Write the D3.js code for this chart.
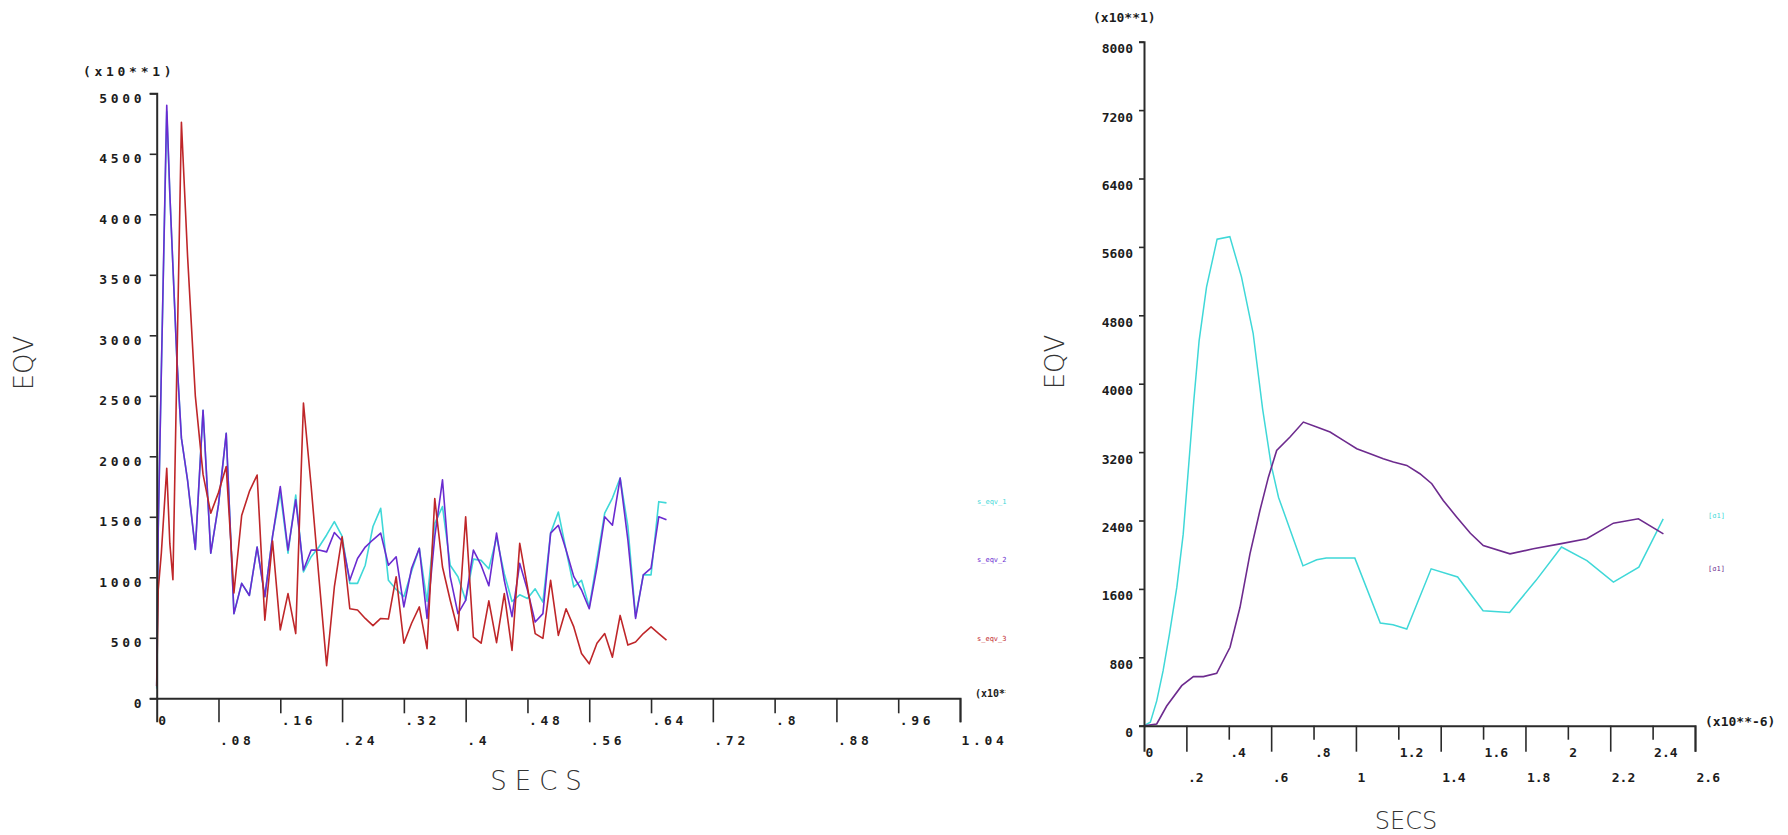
<!DOCTYPE html>
<html>
<head>
<meta charset="utf-8">
<script src="https://cdn.jsdelivr.net/npm/d3@7"></script>
<style>
  html, body { margin: 0; padding: 0; background: #fff; }
  svg { display: block; }
  .lbl { font-family: "DejaVu Sans Mono", monospace; font-weight: bold; fill: #1c1c1c; }
  .ttl { font-family: "DejaVu Sans", sans-serif; font-weight: 200; fill: #333; }
  .leg { font-family: "DejaVu Sans Mono", monospace; }
</style>
</head>
<body>
<svg id="chart" width="1788" height="835"></svg>
<script>
// ---------- left panel: three equivalent-stress histories (x10**1) ----------
const leftTime = [0, 0.002, 0.006, 0.013, 0.017, 0.021, 0.026, 0.032, 0.04, 0.05,
  0.06, 0.07, 0.08, 0.09, 0.10, 0.11, 0.12, 0.13, 0.14, 0.15,
  0.16, 0.17, 0.18, 0.19, 0.20, 0.21, 0.22, 0.23, 0.24, 0.25,
  0.26, 0.27, 0.28, 0.29, 0.30, 0.31, 0.32, 0.33, 0.34, 0.35,
  0.36, 0.37, 0.38, 0.39, 0.40, 0.41, 0.42, 0.43, 0.44, 0.45,
  0.46, 0.47, 0.48, 0.49, 0.50, 0.51, 0.52, 0.53, 0.54, 0.55,
  0.56, 0.57, 0.58, 0.59, 0.60, 0.61, 0.62, 0.63, 0.64, 0.65, 0.66];

const seqv1 = [80, 1400, 2700, 4850, 4170, 3570, 2820, 2150, 1800, 1230,
  2380, 1200, 1600, 2190, 700, 950, 850, 1250, 840, 1340,
  1700, 1200, 1680, 1045, 1170, 1250, 1350, 1460, 1340, 950,
  950, 1100, 1420, 1570, 975, 900, 840, 1050, 1240, 800,
  1445, 1585, 1100, 1005, 810, 1150, 1140, 1070, 1330, 1030,
  800, 855, 825, 905, 795, 1365, 1540, 1225, 920, 975,
  755, 1140, 1530, 1655, 1820, 1420, 675, 1020, 1020, 1625, 1615];

const seqv2 = [100, 1400, 2700, 4900, 4170, 3570, 2820, 2150, 1800, 1230,
  2380, 1200, 1600, 2190, 700, 950, 850, 1250, 840, 1340,
  1750, 1225, 1640, 1060, 1225, 1225, 1210, 1370, 1300, 975,
  1155, 1250, 1310, 1365, 1100, 1170, 755, 1075, 1240, 660,
  1335, 1805, 1005, 700, 810, 1225, 1100, 930, 1365, 975,
  675, 1115, 895, 630, 700, 1365, 1430, 1225, 1005, 895,
  740, 1085, 1500, 1430, 1820, 1310, 660, 1020, 1075, 1500, 1475];

const seqv3 = [100, 900, 1200, 1900, 1280, 980, 2700, 4760, 3650, 2500,
  1850, 1530, 1700, 1915, 870, 1510, 1710, 1845, 645, 1300,
  565, 865, 535, 2440, 1750, 1000, 270, 920, 1335, 740,
  730, 660, 600, 660, 655, 1005, 455, 620, 755, 410,
  1650, 1085, 810, 560, 1500, 505, 455, 805, 460, 865,
  395, 1280, 920, 535, 495, 975, 520, 740, 590, 370,
  285, 455, 535, 340, 685, 440, 465, 535, 590, 535, 480];

const leftNames = ["s_eqv_1", "s_eqv_2", "s_eqv_3"];
const leftXTicks = [0, 0.08, 0.16, 0.24, 0.32, 0.4, 0.48, 0.56, 0.64, 0.72, 0.8, 0.88, 0.96, 1.04];
const leftXLabels = ["0", ".08", ".16", ".24", ".32", ".4", ".48", ".56", ".64", ".72", ".8", ".88", ".96", "1.04"];
const leftYTicks = [0, 500, 1000, 1500, 2000, 2500, 3000, 3500, 4000, 4500, 5000];

// ---------- right panel: two histories over 0 .. 2.45e-6 s ----------
const rightTime1 = [0, 0.03, 0.06, 0.09, 0.12, 0.155, 0.185, 0.21, 0.235, 0.26,
  0.295, 0.345, 0.405, 0.46, 0.515, 0.56, 0.60, 0.635, 0.75, 0.815,
  0.86, 0.995, 1.115, 1.175, 1.24, 1.355, 1.48, 1.60, 1.725, 1.85,
  1.97, 2.09, 2.215, 2.335, 2.45];
const rightSeries1 = [0, 40, 290, 640, 1070, 1620, 2240, 3020, 3800, 4500,
  5130, 5690, 5720, 5250, 4590, 3700, 3050, 2670, 1870, 1940,
  1960, 1960, 1200, 1180, 1130, 1835, 1740, 1345, 1325, 1700,
  2090, 1930, 1680, 1855, 2420];

const rightTime2 = [0, 0.06, 0.107, 0.178, 0.233, 0.28, 0.343, 0.406, 0.453, 0.50,
  0.547, 0.587, 0.626, 0.689, 0.752, 0.815, 0.878, 0.941, 1.004, 1.067,
  1.129, 1.177, 1.24, 1.302, 1.358, 1.412, 1.476, 1.54, 1.601, 1.727,
  1.837, 1.963, 2.089, 2.215, 2.333, 2.451];
const rightSeries2 = [0, 20, 230, 468, 574, 574, 612, 917, 1385, 2010,
  2517, 2907, 3220, 3376, 3551, 3493, 3434, 3337, 3240, 3181,
  3122, 3083, 3044, 2947, 2830, 2634, 2439, 2250, 2107, 2010,
  2069, 2127, 2186, 2369, 2420, 2244];

const rightNames = ["[σ1]", "[σ1]"];
const rightXTicks = [0, 0.2, 0.4, 0.6, 0.8, 1, 1.2, 1.4, 1.6, 1.8, 2, 2.2, 2.4, 2.6];
const rightXLabels = ["0", ".2", ".4", ".6", ".8", "1", "1.2", "1.4", "1.6", "1.8", "2", "2.2", "2.4", "2.6"];
const rightYTicks = [0, 800, 1600, 2400, 3200, 4000, 4800, 5600, 6400, 7200, 8000];

// ---------- colours ----------
const CYAN = "#3fd8d8";
const VIOLET = "#6a2bd0";
const RED = "#bf2629";
const PLUM = "#6d2b8e";

const svg = d3.select("#chart");

// ---------- scales ----------
const xL = d3.scaleLinear().domain([0, 1.04]).range([156.7, 960]);
const yL = d3.scaleLinear().domain([0, 5000]).range([698.3, 93.3]);
const xR = d3.scaleLinear().domain([0, 2.6]).range([1144, 1695]);
const yR = d3.scaleLinear().domain([0, 8000]).range([725.7, 41.7]);

function styleAxis(g) {
  g.select(".domain").attr("stroke", "#2a2a2a").attr("stroke-width", 2);
  g.selectAll(".tick line").attr("stroke", "#2a2a2a").attr("stroke-width", 1.6);
}

// bottom axis with alternating short/long ticks and two label rows
function bottomAxis(x, yPos, ticks, labels, opt) {
  const g = svg.append("g").attr("transform", `translate(0,${yPos})`)
    .call(d3.axisBottom(x).tickValues(ticks).tickFormat((d, i) => labels[i])
      .tickSizeOuter(0).tickSize(opt.longTick));
  styleAxis(g);
  g.selectAll(".tick line").attr("y2", (d, i) => i === 0 ? 0 : (i % 2 ? opt.longTick : opt.shortTick));
  g.selectAll(".tick text")
    .attr("class", "lbl")
    .attr("text-anchor", "start")
    .attr("x", 1)
    .attr("dy", null)
    .attr("y", (d, i) => i % 2 ? opt.lowRow : opt.highRow)
    .style("font-size", opt.fontSize + "px")
    .style("letter-spacing", opt.spacing + "px")
    .attr("fill", "#1c1c1c");
  g.attr("font-family", null).attr("font-size", null);
  return g;
}

function leftAxis(y, xPos, ticks, opt) {
  const g = svg.append("g").attr("transform", `translate(${xPos},0)`)
    .call(d3.axisLeft(y).tickValues(ticks).tickFormat(d3.format("d"))
      .tickSizeOuter(0).tickSize(opt.tick));
  styleAxis(g);
  g.selectAll(".tick text")
    .attr("class", "lbl")
    .attr("x", -opt.gap + opt.spacing)
    .attr("dy", null)
    .attr("y", opt.baseline)
    .style("font-size", opt.fontSize + "px")
    .style("letter-spacing", opt.spacing + "px")
    .attr("fill", "#1c1c1c");
  g.attr("font-family", null).attr("font-size", null);
  return g;
}

// ---------- left panel ----------
const lineL = d3.line().x((d, i) => xL(leftTime[i])).y(d => yL(d));
const leftSeries = [seqv1, seqv2, seqv3];
const leftColors = [CYAN, VIOLET, RED];
leftSeries.forEach((s, k) => {
  svg.append("path").datum(s)
    .attr("d", lineL)
    .attr("fill", "none")
    .attr("stroke", leftColors[k])
    .attr("stroke-width", 1.6)
    .attr("stroke-linejoin", "round");
});

bottomAxis(xL, 698.3, leftXTicks, leftXLabels,
  { longTick: 24, shortTick: 15, highRow: 27, lowRow: 47, fontSize: 13, spacing: 3.7 });
leftAxis(yL, 156.7, leftYTicks, { tick: 7, gap: 15, baseline: 9, fontSize: 13, spacing: 3.7 });

svg.append("text").attr("class", "lbl").attr("x", 83).attr("y", 76)
  .style("font-size", "13px").style("letter-spacing", "3.7px").text("(x10**1)");

// x multiplier, clipped at the panel edge
svg.append("clipPath").attr("id", "leftEdge")
  .append("rect").attr("x", 900).attr("y", 600).attr("width", 106).attr("height", 150);
svg.append("text").attr("class", "lbl").attr("x", 975).attr("y", 697)
  .attr("clip-path", "url(#leftEdge)")
  .style("font-size", "10px").text("(x10**-1)");

svg.append("text").attr("class", "ttl")
  .attr("transform", `translate(33,363) rotate(-90)`)
  .attr("text-anchor", "middle")
  .style("font-size", "26px").text("EQV");
svg.append("text").attr("class", "ttl")
  .attr("x", 540).attr("y", 790).attr("text-anchor", "middle")
  .style("font-size", "26px").style("letter-spacing", "8px").text("SECS");

const leftLegendY = [501, 559, 638];
leftNames.forEach((n, k) => {
  svg.append("text").attr("class", "leg")
    .attr("x", 977).attr("y", leftLegendY[k] + 2.5)
    .attr("fill", leftColors[k])
    .style("font-size", "7px").text(n);
});

// ---------- right panel ----------
const lineR1 = d3.line().x((d, i) => xR(rightTime1[i])).y(d => yR(d));
const lineR2 = d3.line().x((d, i) => xR(rightTime2[i])).y(d => yR(d));
svg.append("path").datum(rightSeries1).attr("d", lineR1)
  .attr("fill", "none").attr("stroke", CYAN).attr("stroke-width", 1.5);
svg.append("path").datum(rightSeries2).attr("d", lineR2)
  .attr("fill", "none").attr("stroke", PLUM).attr("stroke-width", 1.6);

bottomAxis(xR, 725.7, rightXTicks, rightXLabels,
  { longTick: 26, shortTick: 14, highRow: 31, lowRow: 56, fontSize: 13, spacing: 0 });
leftAxis(yR, 1144, rightYTicks, { tick: 5, gap: 11, baseline: 11, fontSize: 13, spacing: 0 });

svg.append("text").attr("class", "lbl").attr("x", 1093).attr("y", 21.5)
  .style("font-size", "13px").text("(x10**1)");
svg.append("text").attr("class", "lbl").attr("x", 1705).attr("y", 726)
  .style("font-size", "13px").text("(x10**-6)");

svg.append("text").attr("class", "ttl")
  .attr("transform", `translate(1064,362) rotate(-90)`)
  .attr("text-anchor", "middle")
  .style("font-size", "26px").text("EQV");
svg.append("text").attr("class", "ttl")
  .attr("x", 1406).attr("y", 829).attr("text-anchor", "middle")
  .style("font-size", "24px").text("SECS");

const rightLegendY = [515, 568];
[CYAN, PLUM].forEach((c, k) => {
  svg.append("text").attr("class", "leg")
    .attr("x", 1708).attr("y", rightLegendY[k] + 2.5)
    .attr("fill", c)
    .style("font-size", "7px").text(rightNames[k]);
});
</script>
</body>
</html>
